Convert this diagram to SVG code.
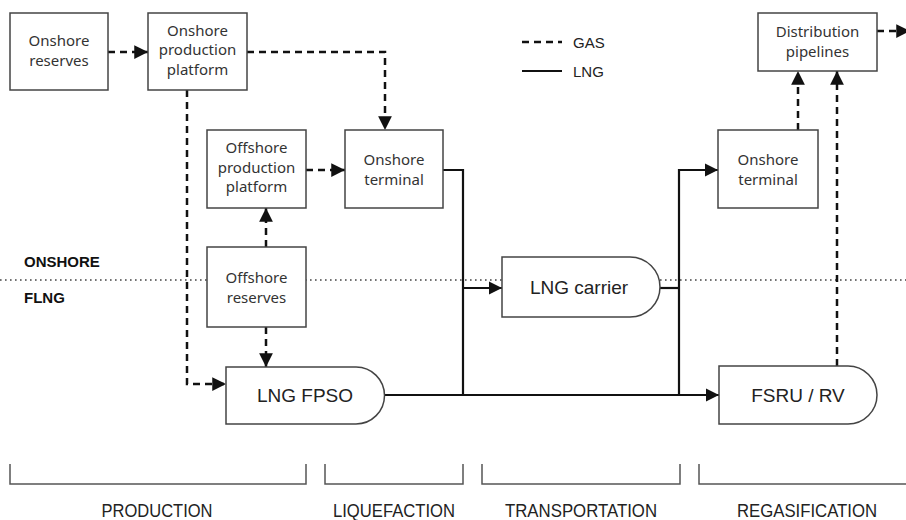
<svg xmlns="http://www.w3.org/2000/svg" width="906" height="520" viewBox="0 0 906 520">
<style>
.box{fill:#fff;stroke:#444;stroke-width:1.5}
.nt{font-family:"Noto Sans","Liberation Sans",sans-serif;font-size:15px;fill:#333;text-anchor:middle}
.bt{font-family:"Liberation Sans",Arial,sans-serif;font-size:19px;fill:#222;text-anchor:middle}
.gas{fill:none;stroke:#111;stroke-width:2.5;stroke-dasharray:7,5}
.lng{fill:none;stroke:#111;stroke-width:2.2}
.lab{font-family:"Liberation Sans",Arial,sans-serif;font-size:17.5px;fill:#222;text-anchor:middle}
.side{font-family:"Liberation Sans",Arial,sans-serif;font-size:15px;font-weight:bold;fill:#111}
.brk{fill:none;stroke:#555;stroke-width:1.5}
</style>
<defs>
<marker id="ah" viewBox="0 0 10 10" refX="10" refY="5" markerWidth="5.5" markerHeight="5.5" orient="auto" markerUnits="strokeWidth">
<path d="M0,0 L10,5 L0,10 Z" fill="#111"/>
</marker>
<marker id="ah2" viewBox="0 0 10 10" refX="10" refY="5" markerWidth="6" markerHeight="6" orient="auto" markerUnits="strokeWidth">
<path d="M0,0 L10,5 L0,10 Z" fill="#111"/>
</marker>
</defs>
<rect width="906" height="520" fill="#fff"/>

<!-- divider -->
<line x1="0" y1="280" x2="906" y2="280" stroke="#444" stroke-width="1.6" stroke-dasharray="1.6,3.4"/>
<text class="side" x="24" y="267">ONSHORE</text>
<text class="side" x="24" y="303">FLNG</text>

<!-- legend -->
<g id="legend">
<line class="gas" x1="522" y1="42" x2="562" y2="42"/>
<text x="573" y="47.5" font-family="Liberation Sans, Arial, sans-serif" font-size="15" fill="#222">GAS</text>
<line class="lng" x1="522" y1="71" x2="562" y2="71"/>
<text x="573" y="76.5" font-family="Liberation Sans, Arial, sans-serif" font-size="15" fill="#222">LNG</text>
</g>

<!-- connectors -->
<g id="connectors">
<path class="gas" d="M108,52 H148" marker-end="url(#ah)"/>
<path class="gas" d="M247,52 H385 V130" marker-end="url(#ah)"/>
<path class="gas" d="M187,90 V384 H226" marker-end="url(#ah)"/>
<path class="gas" d="M266,247 V208" marker-end="url(#ah)"/>
<path class="gas" d="M306,170 H345" marker-end="url(#ah)"/>
<path class="gas" d="M266,327 V367" marker-end="url(#ah)"/>
<path class="gas" d="M798,130 V71" marker-end="url(#ah)"/>
<path class="gas" d="M837,366 V71" marker-end="url(#ah)"/>
<path class="gas" d="M877,31 H910" marker-end="url(#ah)"/>
<path class="lng" d="M443,170 H463 V395"/>
<path class="lng" d="M463,288 H502" marker-end="url(#ah2)"/>
<path class="lng" d="M385,395 H719" marker-end="url(#ah2)"/>
<path class="lng" d="M660,288 H679"/>
<path class="lng" d="M679,395 V170 H718" marker-end="url(#ah2)"/>
</g>

<!-- nodes -->
<g id="onshore-reserves">
<rect class="box" x="10" y="13" width="98" height="77"/>
<text class="nt" x="59" y="46">Onshore</text>
<text class="nt" x="59" y="66">reserves</text>
</g>
<g id="onshore-production-platform">
<rect class="box" x="148" y="13" width="99" height="77"/>
<text class="nt" x="197.5" y="35.5">Onshore</text>
<text class="nt" x="197.5" y="55">production</text>
<text class="nt" x="197.5" y="74.5">platform</text>
</g>
<g id="offshore-production-platform">
<rect class="box" x="207" y="130" width="99" height="78"/>
<text class="nt" x="256.5" y="153">Offshore</text>
<text class="nt" x="256.5" y="172.5">production</text>
<text class="nt" x="256.5" y="192">platform</text>
</g>
<g id="onshore-terminal-1">
<rect class="box" x="345" y="130" width="98" height="78"/>
<text class="nt" x="394" y="165">Onshore</text>
<text class="nt" x="394" y="185">terminal</text>
</g>
<g id="offshore-reserves">
<rect class="box" x="207" y="247" width="99" height="80"/>
<text class="nt" x="256.5" y="283">Offshore</text>
<text class="nt" x="256.5" y="303">reserves</text>
</g>
<g id="lng-fpso">
<path class="box" d="M226,367 H356 A28.5,28.5 0 0 1 356,424 H226 Z"/>
<text class="bt" x="305" y="402">LNG FPSO</text>
</g>
<g id="lng-carrier">
<path class="box" d="M502,257 H630 A30,30 0 0 1 630,317 H502 Z"/>
<text class="bt" x="579" y="294">LNG carrier</text>
</g>
<g id="onshore-terminal-2">
<rect class="box" x="718" y="130" width="100" height="78"/>
<text class="nt" x="768" y="165">Onshore</text>
<text class="nt" x="768" y="185">terminal</text>
</g>
<g id="distribution-pipelines">
<rect class="box" x="758" y="13" width="119" height="58"/>
<text class="nt" x="817.5" y="37">Distribution</text>
<text class="nt" x="817.5" y="57">pipelines</text>
</g>
<g id="fsru-rv">
<path class="box" d="M719,366 H848 A29,29 0 0 1 848,424 H719 Z"/>
<text class="bt" x="798" y="402">FSRU / RV</text>
</g>

<!-- stages -->
<g id="stages">
<path class="brk" d="M10,464 V484 H306 V464"/>
<path class="brk" d="M325,464 V484 H463 V464"/>
<path class="brk" d="M482,464 V484 H680 V464"/>
<path class="brk" d="M699,464 V484 H910"/>
<text class="lab" x="157" y="517" textLength="111" lengthAdjust="spacingAndGlyphs">PRODUCTION</text>
<text class="lab" x="394" y="517" textLength="122" lengthAdjust="spacingAndGlyphs">LIQUEFACTION</text>
<text class="lab" x="581" y="517" textLength="152" lengthAdjust="spacingAndGlyphs">TRANSPORTATION</text>
<text class="lab" x="807" y="517" textLength="140" lengthAdjust="spacingAndGlyphs">REGASIFICATION</text>
</g>
</svg>
